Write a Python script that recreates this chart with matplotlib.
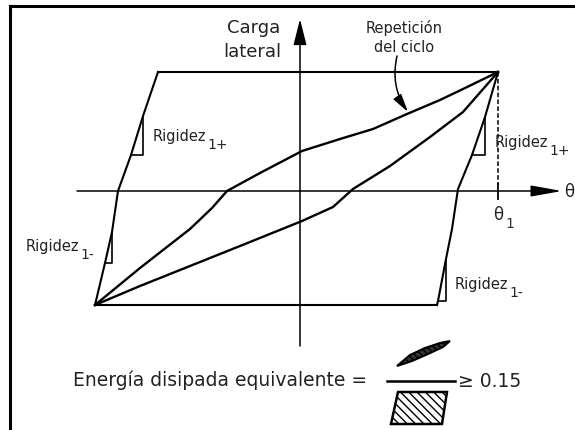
import matplotlib
import matplotlib.pyplot as plt
from matplotlib.patches import Polygon

matplotlib.use("Agg")

plt.rcParams.update({
    "font.family": "DejaVu Sans",
    "hatch.linewidth": 1.0,
})

# diagram units: origin where the two axes cross, 1 unit = 1 px, y upwards
THETA_1 = 198

# hysteresis envelope (parallelogram-like loop)
top_x = [-142, 198]
top_y = [119, 119]
bottom_x = [-205, 137]
bottom_y = [-114, -114]
left_edge_x = [-142, -157, -169, -182, -188, -195, -205]
left_edge_y = [119, 75, 36, 0, -41, -72, -114]
right_edge_x = [198, 185, 172, 158, 152, 146, 138, 137]
right_edge_y = [119, 74, 36, 2, -38, -68, -110, -114]

# repeated cycles
upper_x = [-205, -160, -110, -88, -73, -40, 2, 40, 73, 107, 140, 163, 198]
upper_y = [-114, -77, -38, -17, 0, 18, 40, 52, 62, 77, 91, 102, 119]
lower_x = [-205, -160, -110, -55, 2, 33, 53, 90, 130, 163, 198]
lower_y = [-114, -95, -75, -53, -30, -16, 2, 25, 54, 79, 119]

# stiffness triangles (vertical + horizontal legs)
tri_ul_x, tri_ul_y = [-157, -157, -169], [75, 36, 36]
tri_ur_x, tri_ur_y = [185, 185, 172], [74, 36, 36]
tri_ll_x, tri_ll_y = [-188, -188, -195], [-41, -72, -72]
tri_lr_x, tri_lr_y = [146, 146, 138], [-68, -110, -110]

# little glyphs in the energy ratio
lens_xy = [(97, -175), (110, -164), (125, -157), (140, -152), (150, -150),
           (143, -156), (128, -163), (112, -170)]
box_xy = [(98, -201), (147, -201), (142, -233), (91, -233)]

fig = plt.figure(figsize=(5.75, 4.31), dpi=100)
ax = fig.add_axes([0, 0, 1, 1])
ax.set_xlim(-300, 275)
ax.set_ylim(-239, 192)
ax.axis("off")

# frame (cropped on the right and bottom)
ax.plot([-290, -290], [-245, 185], color="black", lw=2.2, solid_capstyle="projecting")
ax.plot([-290, 280], [185, 185], color="black", lw=2.2, solid_capstyle="projecting")

# axes with arrow heads
ax.annotate("", xy=(262, 0), xytext=(-223, 0),
            arrowprops=dict(arrowstyle="-|>,head_length=1.9,head_width=0.34",
                            mutation_scale=10, lw=1.1, color="black",
                            shrinkA=0, shrinkB=0))
ax.annotate("", xy=(0, 172), xytext=(0, -155),
            arrowprops=dict(arrowstyle="-|>,head_length=1.6,head_width=0.4",
                            mutation_scale=10, lw=1.1, color="black",
                            shrinkA=0, shrinkB=0))

# loop
kw = dict(color="black", lw=1.5, solid_joinstyle="round")
ax.plot(top_x, top_y, **kw)
ax.plot(bottom_x, bottom_y, **kw)
ax.plot(left_edge_x, left_edge_y, **kw)
ax.plot(right_edge_x, right_edge_y, **kw)
ax.plot(upper_x, upper_y, color="black", lw=1.7, solid_joinstyle="round")
ax.plot(lower_x, lower_y, color="black", lw=1.7, solid_joinstyle="round")

for tx, ty in [(tri_ul_x, tri_ul_y), (tri_ur_x, tri_ur_y),
               (tri_ll_x, tri_ll_y), (tri_lr_x, tri_lr_y)]:
    ax.plot(tx, ty, color="black", lw=1.2)

# theta_1 marker
ax.plot([THETA_1, THETA_1], [top_y[0], 6], color="black", lw=1.1, ls=(0, (3, 1.5)))
ax.plot([THETA_1, THETA_1], [7, -8], color="black", lw=1.3)

# labels
txt = "#222222"
ax.text(-20, 164, "Carga", fontsize=13, ha="right", va="center", color=txt)
ax.text(-19, 140, "lateral", fontsize=13, ha="right", va="center", color=txt)
ax.text(104, 164, "Repetición", fontsize=10.5, ha="center", va="center", color=txt)
ax.text(104, 144, "del ciclo", fontsize=10.5, ha="center", va="center", color=txt)
ax.annotate("", xy=(108, 79), xytext=(97, 135),
            arrowprops=dict(arrowstyle="-|>,head_length=1.1,head_width=0.28",
                            mutation_scale=10, lw=1.1, color="black",
                            shrinkA=0, shrinkB=0,
                            connectionstyle="arc3,rad=0.22"))

ax.text(264, 0, "θ", fontsize=12, ha="left", va="center", color=txt)
ax.text(THETA_1, -23, "θ", fontsize=12, ha="center", va="center", color=txt)
ax.text(THETA_1 + 7, -32, "1", fontsize=10, ha="left", va="center", color="#333333")

stiff_labels = [
    (-147, 55, "1+"), (195, 49, "1+"),
    (-274, -55, "1-"), (155, -93, "1-"),
]
for lx, ly, sub in stiff_labels:
    ax.text(lx, ly, "Rigidez", fontsize=10.5, ha="left", va="center", color=txt)
    ax.text(lx + 54, ly - 8, sub, fontsize=10, ha="left", va="center", color=txt)

# equivalent dissipated energy ratio
ax.text(-227, -188, "Energía disipada equivalente =", fontsize=13.5,
        ha="left", va="center", color=txt)
ax.plot([87, 155], [-190, -190], color="black", lw=1.8)
ax.text(158, -190, "≥ 0.15", fontsize=13.5, ha="left", va="center", color=txt)
ax.add_patch(Polygon(lens_xy, closed=True, facecolor="#333333", edgecolor="black",
                     hatch="\\\\\\\\\\", lw=1.5))
ax.add_patch(Polygon(box_xy, closed=True, facecolor="white", edgecolor="black",
                     hatch="\\\\\\\\", lw=1.8))

fig.savefig("out.png", dpi=100)
plt.close(fig)
